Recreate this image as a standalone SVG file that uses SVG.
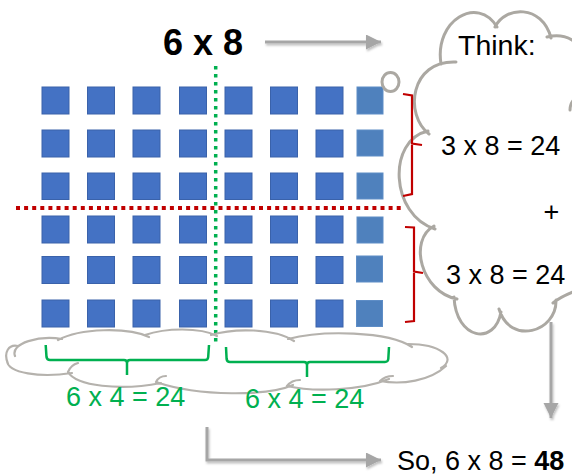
<svg xmlns="http://www.w3.org/2000/svg" width="572" height="475" viewBox="0 0 572 475">
  <style>
    .sq { fill: #4472C4; stroke: #3A62AA; stroke-width: 1; }
    .sq2 { fill: #4F81BD; stroke: #5E8DC6; stroke-width: 1; }
    .txt { font-family: "Liberation Sans", Arial, sans-serif; fill: #000; }
    .grn { font-family: "Liberation Sans", Arial, sans-serif; fill: #00B050; font-size: 27px; }
    .cloud { fill: none; stroke: #ABA8A2; stroke-width: 3; stroke-linecap: round; }
    .cloud2 { fill: none; stroke: #B5B2AD; stroke-width: 2.2; stroke-linecap: round; }
    .arrow { fill: none; stroke: #A6A6A6; stroke-width: 3; }
    .brace-r { fill: none; stroke: #C00000; stroke-width: 2.2; }
    .brace-g { fill: none; stroke: #00B050; stroke-width: 2.5; }
  </style>
  <defs>
    <marker id="head" markerWidth="6" markerHeight="6" refX="5" refY="2.5" orient="auto" markerUnits="strokeWidth">
      <path d="M0,0 L5,2.5 L0,5 Z" fill="#A6A6A6"/>
    </marker>
    <filter id="shadow" x="-10%" y="-10%" width="130%" height="130%">
      <feDropShadow dx="1" dy="2" stdDeviation="1.2" flood-color="#000" flood-opacity="0.25"/>
    </filter>
  </defs>

  <!-- title -->
  <g id="title">
    <text class="txt" x="163" y="55" font-size="36" font-weight="bold">6 x 8</text>
  </g>

  <!-- 6 x 8 array of squares -->
  <g id="array">
    <g id="row1">
      <rect class="sq" x="42" y="87" width="27" height="27"/>
      <rect class="sq" x="87.5" y="87" width="27" height="27"/>
      <rect class="sq" x="133" y="87" width="27" height="27"/>
      <rect class="sq" x="179.5" y="87" width="27" height="27"/>
      <rect class="sq" x="225" y="87" width="27" height="27"/>
      <rect class="sq" x="270.5" y="87" width="27" height="27"/>
      <rect class="sq" x="316" y="87" width="27" height="27"/>
      <rect class="sq2" x="357" y="87" width="26" height="27"/>
    </g>
    <g id="row2">
      <rect class="sq" x="42" y="130" width="27" height="27"/>
      <rect class="sq" x="87.5" y="130" width="27" height="27"/>
      <rect class="sq" x="133" y="130" width="27" height="27"/>
      <rect class="sq" x="179.5" y="130" width="27" height="27"/>
      <rect class="sq" x="225" y="130" width="27" height="27"/>
      <rect class="sq" x="270.5" y="130" width="27" height="27"/>
      <rect class="sq" x="316" y="130" width="27" height="27"/>
      <rect class="sq2" x="357" y="130" width="26" height="26"/>
    </g>
    <g id="row3">
      <rect class="sq" x="42" y="173" width="27" height="26.5"/>
      <rect class="sq" x="87.5" y="173" width="27" height="26.5"/>
      <rect class="sq" x="133" y="173" width="27" height="26.5"/>
      <rect class="sq" x="179.5" y="173" width="27" height="26.5"/>
      <rect class="sq" x="225" y="173" width="27" height="26.5"/>
      <rect class="sq" x="270.5" y="173" width="27" height="26.5"/>
      <rect class="sq" x="316" y="173" width="27" height="26.5"/>
      <rect class="sq2" x="357" y="173" width="26" height="26"/>
    </g>
    <g id="row4">
      <rect class="sq" x="42" y="216" width="27" height="27"/>
      <rect class="sq" x="87.5" y="216" width="27" height="27"/>
      <rect class="sq" x="133" y="216" width="27" height="27"/>
      <rect class="sq" x="179.5" y="216" width="27" height="27"/>
      <rect class="sq" x="225" y="216" width="27" height="27"/>
      <rect class="sq" x="270.5" y="216" width="27" height="27"/>
      <rect class="sq" x="316" y="216" width="27" height="27"/>
      <rect class="sq2" x="357" y="217" width="26" height="26"/>
    </g>
    <g id="row5">
      <rect class="sq" x="42" y="256.5" width="27" height="27"/>
      <rect class="sq" x="87.5" y="256.5" width="27" height="27"/>
      <rect class="sq" x="133" y="256.5" width="27" height="27"/>
      <rect class="sq" x="179.5" y="256.5" width="27" height="27"/>
      <rect class="sq" x="225" y="256.5" width="27" height="27"/>
      <rect class="sq" x="270.5" y="256.5" width="27" height="27"/>
      <rect class="sq" x="316" y="256.5" width="27" height="27"/>
      <rect class="sq2" x="356.5" y="256" width="26" height="26"/>
    </g>
    <g id="row6">
      <rect class="sq" x="42" y="300" width="27" height="27"/>
      <rect class="sq" x="87.5" y="300" width="27" height="27"/>
      <rect class="sq" x="133" y="300" width="27" height="27"/>
      <rect class="sq" x="179.5" y="300" width="27" height="27"/>
      <rect class="sq" x="225" y="300" width="27" height="27"/>
      <rect class="sq" x="270.5" y="300" width="27" height="27"/>
      <rect class="sq" x="316" y="300" width="27" height="27"/>
      <rect class="sq2" x="356.5" y="300.5" width="26" height="26"/>
    </g>
  </g>

  <!-- split lines -->
  <g id="splits">
    <line x1="16" y1="208" x2="404" y2="208" stroke="#C00000" stroke-width="4" stroke-dasharray="4 4.1"/>
    <line x1="215.7" y1="66" x2="215.7" y2="344" stroke="#00B050" stroke-width="3.5" stroke-dasharray="3.4 4.6"/>
  </g>

  <!-- bottom cloud behind the column braces -->
  <g id="bottom-cloud">
    <path class="cloud2" d="
      M 15,356 C 10,343 40,335 62,339
      M 58,340 C 80,328 128,327 149,337
      M 145,335 C 165,328 200,327 217,336
      M 211,335 C 234,328 274,328 294,341
      M 288,339 C 322,330 388,331 412,347
      M 408,344 C 440,344 458,358 441,368
      M 446,366 C 430,381 402,385 380,381
      M 389,379 C 360,391 312,392 287,386
      M 293,385 C 268,396 200,397 156,382
      M 161,383 C 120,391 76,386 68,372
      M 72,373 C 40,378 8,373 7,361
      M 8,364 C 3,352 9,344 18,346
      M 68,372 C 70,367 74,364 78,363
      M 156,382 C 158,378 162,376 166,376
      M 287,386 C 290,382 295,380 300,380
      M 380,381 C 384,377 388,376 393,376"/>
  </g>

  <!-- thought cloud on the right -->
  <g id="think-cloud">
    <path class="cloud" d="
      M 441,64 C 434,20 478,-5 497,27
      M 495,27 C 505,6 542,4 551,38
      M 547,37 C 566,32 582,42 588,62
      M 590,92 C 578,94 570,100 570,110
      M 590,282 C 580,292 566,292 553,303
      M 556,300 C 557,332 510,346 499,309
      M 501,312 C 495,346 456,340 454,297
      M 457,299 C 421,292 408,240 434,226
      M 435,229 C 390,215 387,140 428,131
      M 429,134 C 404,115 410,60 456,62"/>
    <ellipse class="cloud" cx="390.5" cy="82" rx="8.5" ry="9.5" stroke-width="2.5"/>
  </g>

  <!-- red braces for the two halves -->
  <g id="brace-top">
    <path class="brace-r" d="M 403,94 L 412,95.5 L 412,143.5 L 422,145 M 412,145 L 412,194 L 403,196"/>
  </g>
  <g id="brace-bottom">
    <path class="brace-r" d="M 405,227 L 414,227.5 L 414,271.5 L 423,273 M 414,273 L 414,321 L 405,322"/>
  </g>

  <!-- green braces for the two column halves -->
  <g id="brace-left">
    <path class="brace-g" d="M 45.7,345 L 46.5,357 Q 47,360 50,360 L 124,360 Q 127,360 127,363 L 127,375 M 127,363 Q 127,360 130,360 L 205,360 Q 208,360 208.2,357 L 209,345"/>
  </g>
  <g id="brace-right">
    <path class="brace-g" d="M 226,347 L 226.6,359 Q 227,362 230,362 L 304,362 Q 307,362 307,365 L 307,377 M 307,365 Q 307,362 310,362 L 385,362 Q 388,362 388.3,359 L 389,347"/>
  </g>

  <!-- texts -->
  <g id="think-text">
    <text class="txt" x="458" y="55" font-size="28.5">Think:</text>
    <text class="txt" x="441" y="155" font-size="27">3 x 8 = 24</text>
    <text class="txt" x="551.5" y="221" font-size="27" text-anchor="middle">+</text>
    <text class="txt" x="446" y="284" font-size="27">3 x 8 = 24</text>
  </g>
  <g id="column-labels">
    <text class="grn" x="66" y="406">6 x 4 = 24</text>
    <text class="grn" x="245" y="408">6 x 4 = 24</text>
  </g>
  <g id="result">
    <text class="txt" x="397" y="470" font-size="27">So, 6 x 8 = <tspan font-weight="bold">48</tspan></text>
  </g>

  <!-- connectors -->
  <g id="connectors" filter="url(#shadow)">
    <line class="arrow" x1="265" y1="42" x2="381" y2="42" marker-end="url(#head)"/>
    <line class="arrow" x1="551" y1="322" x2="551" y2="418" marker-end="url(#head)"/>
    <polyline class="arrow" points="207,427 207,460 381,460" marker-end="url(#head)"/>
  </g>
</svg>
